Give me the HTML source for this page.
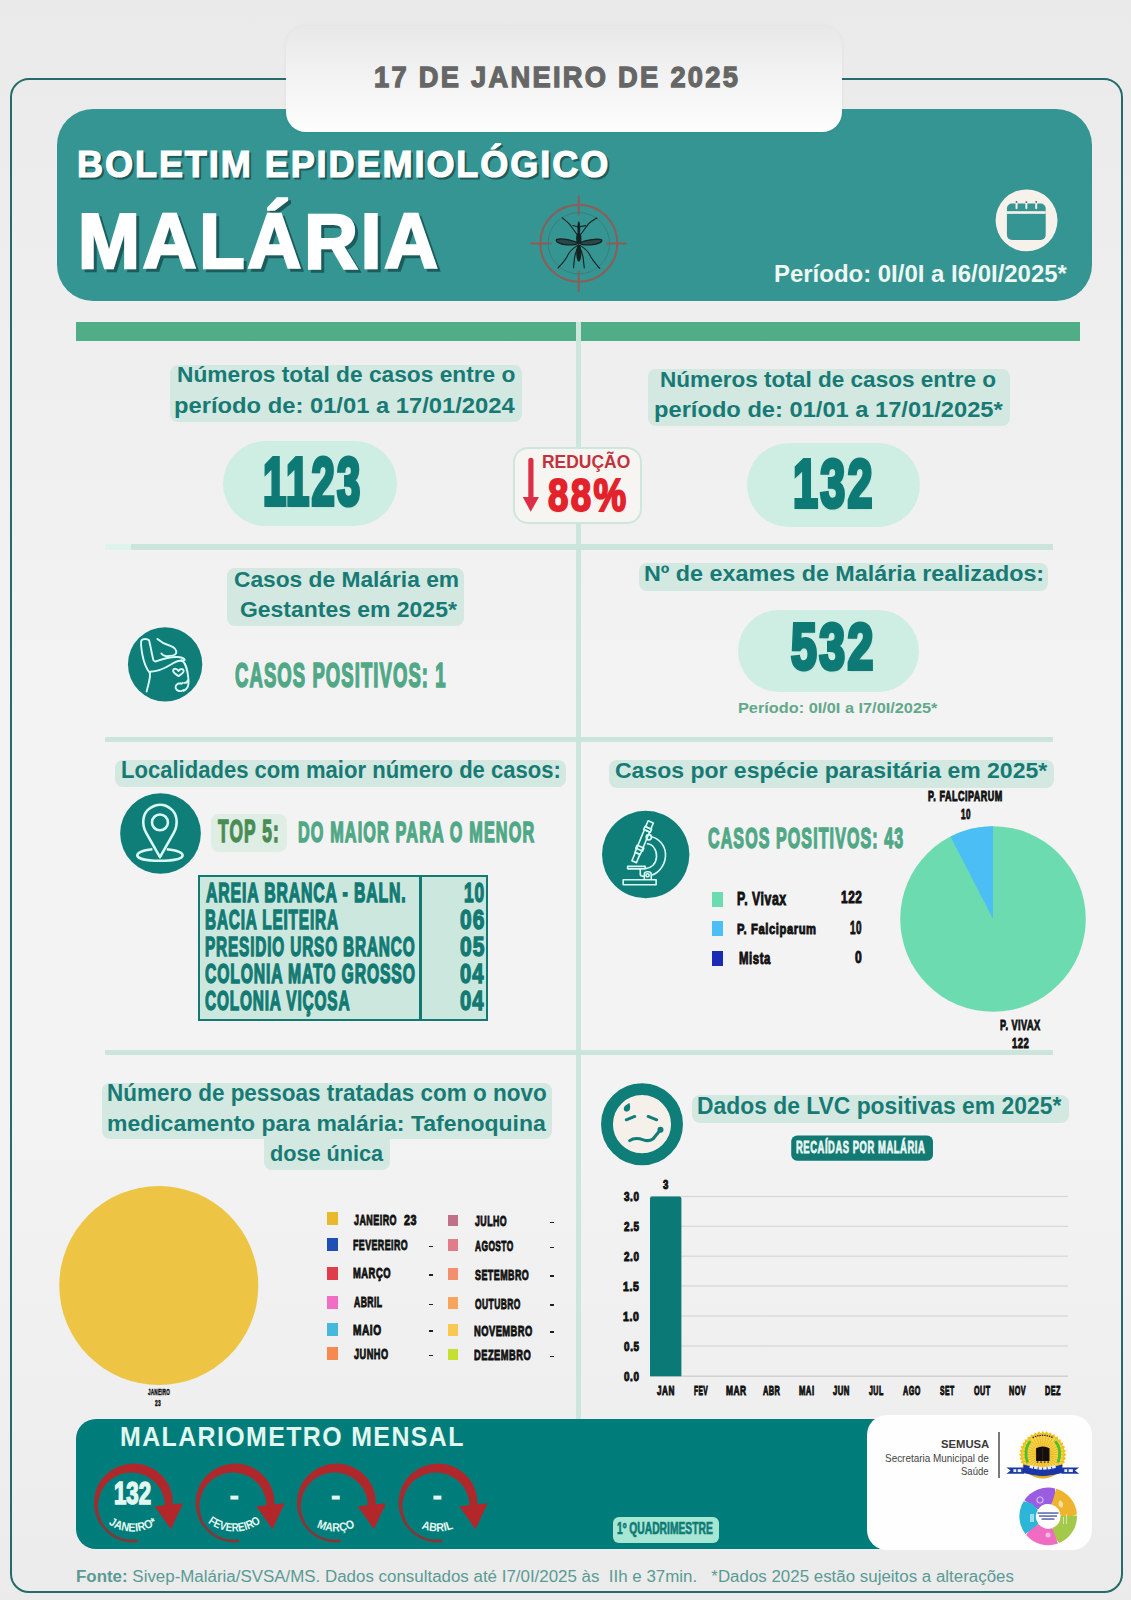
<!DOCTYPE html>
<html><head><meta charset="utf-8"><title>Boletim Malária</title>
<style>
html,body{margin:0;padding:0;}
body{width:1131px;height:1600px;position:relative;overflow:hidden;background:#ededed;font-family:"Liberation Sans",sans-serif;}
.a{position:absolute;}
svg{position:absolute;overflow:visible;}
</style></head><body>
<div class="a" style="left:0.00px;top:0.00px;width:1131.00px;height:1600.00px;background:linear-gradient(180deg,#eaeaea 0px,#eeeeee 300px,#f3f3f3 700px,#f3f3f3 1100px,#efefef 1400px,#ebebeb 1600px);"></div>
<div class="a" style="left:10.30px;top:77.90px;width:1112.50px;height:1515.30px;box-sizing:border-box;border:2.8px solid #256b69;border-radius:19px;"></div>
<div class="a" style="left:57.00px;top:109.00px;width:1035.00px;height:192.00px;border-radius:36px;background:#349592;"></div>
<div class="a" style="left:286.00px;top:26.00px;width:556.00px;height:105.50px;border-radius:20px;background:linear-gradient(180deg,#e8e8e8 0%,#f1f1f1 40%,#fdfdfd 100%);box-shadow:0 0 4px rgba(0,0,0,.05);"></div>
<div class="a" style="left:76.00px;top:322.00px;width:1004.00px;height:19.00px;background:#4fae87;"></div>
<div class="a" style="left:575.50px;top:322.00px;width:5.50px;height:1097.00px;background:#cce6dd;"></div>
<div class="a" style="left:104.50px;top:544.00px;width:948.50px;height:6.00px;background:#cce5dc;"></div>
<div class="a" style="left:104.50px;top:736.50px;width:948.50px;height:5.50px;background:#cce5dc;"></div>
<div class="a" style="left:104.50px;top:1049.50px;width:948.50px;height:5.50px;background:#cce5dc;"></div>
<div class="a" style="left:104.50px;top:544.00px;width:26.50px;height:6.00px;background:#def3ec;"></div>
<div class="a" style="left:169.80px;top:364.80px;width:352.20px;height:57.20px;background:#d3e8e0;border-radius:8px;"></div>
<div class="a" style="left:648.40px;top:369.20px;width:361.20px;height:57.30px;background:#d3e8e0;border-radius:8px;"></div>
<div class="a" style="left:227.40px;top:568.40px;width:236.60px;height:57.30px;background:#d3e8e0;border-radius:8px;"></div>
<div class="a" style="left:639.00px;top:563.00px;width:409.00px;height:28.10px;background:#d3e8e0;border-radius:8px;"></div>
<div class="a" style="left:114.90px;top:760.00px;width:451.10px;height:27.20px;background:#d3e8e0;border-radius:8px;"></div>
<div class="a" style="left:609.20px;top:760.00px;width:444.80px;height:27.50px;background:#d3e8e0;border-radius:8px;"></div>
<div class="a" style="left:102.40px;top:1083.00px;width:449.60px;height:56.20px;background:#d3e8e0;border-radius:8px;"></div>
<div class="a" style="left:263.90px;top:1130.00px;width:126.00px;height:39.80px;background:#d3e8e0;border-radius:8px;"></div>
<div class="a" style="left:691.90px;top:1095.40px;width:376.90px;height:28.10px;background:#d3e8e0;border-radius:8px;"></div>
<div class="a" style="left:210.80px;top:814.00px;width:75.90px;height:37.70px;background:#dfeee4;border-radius:8px;"></div>
<div class="a" style="left:223.40px;top:441.00px;width:174.10px;height:84.60px;background:#cfeee3;border-radius:50px;"></div>
<div class="a" style="left:747.00px;top:443.40px;width:173.30px;height:84.10px;background:#cfeee3;border-radius:50px;"></div>
<div class="a" style="left:738.40px;top:610.00px;width:180.60px;height:82.00px;background:#cfeee3;border-radius:50px;"></div>
<div class="a" style="left:513.30px;top:447.30px;width:128.50px;height:76.40px;box-sizing:border-box;border:2.3px solid #cfe6df;border-radius:15px;background:#f6f5f2;"></div>
<svg style="left:0;top:0" width="1131" height="1600"><rect x="528.3" y="457.8" width="5.2" height="42" rx="2.6" fill="#dc2f45"/><polygon points="522.8,497 539,497 530.7,511.8" fill="#dc2f45"/></svg>
<div class="a" style="left:198.20px;top:875.20px;width:290.00px;height:145.50px;box-sizing:border-box;border:2.7px solid #127a73;background:#cce8de;"></div>
<div class="a" style="left:419.00px;top:875.40px;width:3.00px;height:145.30px;background:#127a73;"></div>
<div class="a" style="left:712.20px;top:892.00px;width:10.80px;height:15.00px;background:#6ddbb0;"></div>
<div class="a" style="left:712.20px;top:920.50px;width:10.80px;height:15.50px;background:#4bbff5;"></div>
<div class="a" style="left:712.20px;top:950.50px;width:10.80px;height:15.30px;background:#1c2bb5;"></div>
<svg style="left:0;top:0" width="1131" height="1600"><circle cx="993" cy="919" r="92.8" fill="#6ddbb0"/><path d="M 993 919 L 993 826.20 A 92.8 92.8 0 0 0 950.48 836.51 Z" fill="#4bbff5"/></svg>
<svg style="left:0;top:0" width="1131" height="1600"><circle cx="158.8" cy="1285.5" r="99.5" fill="#edc444"/></svg>
<div class="a" style="left:326.80px;top:1212.00px;width:10.80px;height:13.00px;background:#e8b92b;"></div>
<div class="a" style="left:326.80px;top:1238.00px;width:10.80px;height:13.00px;background:#1f4fb5;"></div>
<div class="a" style="left:326.80px;top:1266.70px;width:10.80px;height:12.90px;background:#e03d4b;"></div>
<div class="a" style="left:326.80px;top:1296.00px;width:10.80px;height:12.80px;background:#f26ec5;"></div>
<div class="a" style="left:326.80px;top:1322.60px;width:10.80px;height:13.10px;background:#45b8dc;"></div>
<div class="a" style="left:326.80px;top:1347.00px;width:10.80px;height:13.00px;background:#f7884e;"></div>
<div class="a" style="left:448.00px;top:1214.50px;width:10.30px;height:11.50px;background:#c07088;"></div>
<div class="a" style="left:448.00px;top:1239.00px;width:10.30px;height:12.30px;background:#e07d88;"></div>
<div class="a" style="left:448.00px;top:1268.00px;width:10.30px;height:11.60px;background:#f48f6e;"></div>
<div class="a" style="left:448.00px;top:1297.30px;width:10.30px;height:11.50px;background:#f5a55c;"></div>
<div class="a" style="left:448.00px;top:1324.20px;width:10.30px;height:11.50px;background:#f9c851;"></div>
<div class="a" style="left:448.00px;top:1348.60px;width:10.30px;height:11.40px;background:#c5e030;"></div>
<div class="a" style="left:429.30px;top:1245.70px;width:4.00px;height:1.60px;background:#222;"></div>
<div class="a" style="left:429.30px;top:1274.30px;width:4.00px;height:1.60px;background:#222;"></div>
<div class="a" style="left:429.30px;top:1303.50px;width:4.00px;height:1.60px;background:#222;"></div>
<div class="a" style="left:429.30px;top:1330.40px;width:4.00px;height:1.60px;background:#222;"></div>
<div class="a" style="left:429.30px;top:1354.70px;width:4.00px;height:1.60px;background:#222;"></div>
<div class="a" style="left:550.30px;top:1221.60px;width:4.10px;height:1.60px;background:#222;"></div>
<div class="a" style="left:550.30px;top:1246.90px;width:4.10px;height:1.60px;background:#222;"></div>
<div class="a" style="left:550.30px;top:1275.20px;width:4.10px;height:1.60px;background:#222;"></div>
<div class="a" style="left:550.30px;top:1304.40px;width:4.10px;height:1.60px;background:#222;"></div>
<div class="a" style="left:550.30px;top:1331.30px;width:4.10px;height:1.60px;background:#222;"></div>
<div class="a" style="left:550.30px;top:1355.60px;width:4.10px;height:1.60px;background:#222;"></div>
<svg style="left:0;top:0" width="1131" height="1600"><rect x="650" y="1195.9" width="418" height="1.2" fill="#d6d6d6"/><rect x="650" y="1225.7" width="418" height="1.2" fill="#d6d6d6"/><rect x="650" y="1255.6" width="418" height="1.2" fill="#d6d6d6"/><rect x="650" y="1285.4" width="418" height="1.2" fill="#d6d6d6"/><rect x="650" y="1315.4" width="418" height="1.2" fill="#d6d6d6"/><rect x="650" y="1345.4" width="418" height="1.2" fill="#d6d6d6"/><rect x="650" y="1375.5" width="418" height="1.4" fill="#cfcfcf"/><path d="M650 1376.3 V1198.5 Q650 1196.5 652 1196.5 H679.4 Q681.4 1196.5 681.4 1198.5 V1376.3 Z" fill="#0b7a76"/><rect x="791.2" y="1135.5" width="141.8" height="25.3" rx="6" fill="#127a73"/></svg>
<div class="a" style="left:76.00px;top:1418.80px;width:924.00px;height:130.70px;border-radius:20px;background:#007d7a;"></div>
<div class="a" style="left:867.00px;top:1414.50px;width:225.00px;height:135.50px;border-radius:20px;background:#fefefe;"></div>
<div class="a" style="left:998.30px;top:1432.00px;width:1.50px;height:46.00px;background:#7a7a7a;"></div>
<div class="a" style="left:613.20px;top:1517.00px;width:105.40px;height:25.70px;border-radius:6px;background:#a6e6d2;"></div>
<svg style="left:500px;top:180px" width="160" height="120" viewBox="0 0 1131 848">
<g fill="none" stroke="#8c5e59" stroke-width="15">
<circle cx="557" cy="447" r="272"/>
<line x1="557" y1="110" x2="557" y2="250"/><line x1="557" y1="640" x2="557" y2="790"/>
<line x1="215" y1="448" x2="365" y2="448"/><line x1="750" y1="448" x2="895" y2="448"/>
</g>
<circle cx="557" cy="447" r="217" fill="none" stroke="#3d7a77" stroke-width="6"/>
<g fill="#2a4747" stroke="#152222" stroke-width="9">
<path d="M545 440 C500 425 430 410 400 420 C390 435 420 455 470 458 C510 460 540 455 545 450 Z"/>
<path d="M570 440 C615 425 690 410 718 422 C728 437 695 455 645 458 C605 460 575 455 570 450 Z"/>
</g>
<g fill="#152222">
<ellipse cx="557" cy="340" rx="10" ry="48"/>
<ellipse cx="557" cy="412" rx="19" ry="42"/>
<ellipse cx="557" cy="515" rx="18" ry="62"/>
</g>
<g fill="none" stroke="#152222" stroke-width="8" stroke-linecap="round">
<path d="M545 385 C525 360 505 330 490 310 C470 290 455 280 440 268"/>
<path d="M570 385 C590 360 610 330 625 310 C645 290 665 280 685 268"/>
<path d="M548 462 C520 480 490 500 475 540 C455 575 430 600 410 622"/>
<path d="M566 462 C595 480 625 500 640 540 C660 575 685 600 705 625"/>
<path d="M550 478 C535 510 525 540 525 570 C522 590 520 605 520 620"/>
<path d="M564 478 C580 510 588 540 590 570 C592 590 594 605 596 622"/>
<path d="M550 330 L515 322"/><path d="M564 330 L605 322"/>
</g>
</svg>
<svg style="left:990px;top:185px" width="75" height="70" viewBox="0 0 1131 1056">
<circle cx="551" cy="533" r="467" fill="#f6f1ea"/>
<rect x="255" y="280" width="585" height="550" rx="75" fill="#349592"/>
<rect x="255" y="395" width="585" height="40" fill="#f6f1ea"/>
<g stroke="#f6f1ea" stroke-width="30" stroke-linecap="round"><line x1="400" y1="265" x2="400" y2="350"/><line x1="548" y1="265" x2="548" y2="350"/><line x1="697" y1="265" x2="697" y2="350"/></g>
<g fill="#4a5f5e"><circle cx="400" cy="255" r="14"/><circle cx="548" cy="258" r="14"/><circle cx="697" cy="255" r="14"/></g>
</svg>
<svg style="left:120px;top:620px" width="90" height="90" viewBox="0 0 1131 1131">
<circle cx="567" cy="557" r="467" fill="#0f7d78"/>
<g fill="none" stroke="#d8fbf5" stroke-width="24" stroke-linecap="round" stroke-linejoin="round">
<path d="M335 900 C350 820 385 740 375 670"/>
<path d="M375 665 C330 610 300 540 280 430 C265 340 255 280 270 255 C290 230 345 235 365 255 C385 330 400 430 420 505 C430 525 445 525 470 515 C560 480 650 460 730 465 C790 470 820 490 810 505 C800 512 790 508 770 505"/>
<path d="M380 650 C480 650 560 610 640 560 C700 520 760 505 790 520 C820 540 850 640 860 740 C870 820 850 870 800 890"/>
<path d="M470 238 C520 280 560 305 620 320 C690 345 715 385 705 420 C690 450 640 455 580 455 C550 450 530 435 520 420"/>
<path d="M800 880 C760 905 715 895 700 860 C690 825 715 795 760 795 C770 805 780 800 790 790"/>
<path d="M810 790 C840 790 850 770 850 760"/>
<path d="M735 705 C700 680 660 660 668 632 C678 600 720 615 735 640 C750 612 795 605 800 638 C805 662 765 685 735 705 Z"/>
</g></svg>
<svg style="left:115px;top:788px" width="90" height="90" viewBox="0 0 1131 1131">
<circle cx="572" cy="572" r="507" fill="#0f7d78"/>
<g fill="none" stroke="#d8fbf5" stroke-width="32" stroke-linejoin="round">
<path d="M565 870 L390 560 C330 450 350 320 430 260 C520 195 620 195 700 260 C780 320 800 450 740 560 Z"/>
<circle cx="565" cy="432" r="100"/>
<path d="M470 770 C340 785 275 815 280 850 C290 895 420 915 565 915 C710 915 845 895 850 850 C855 815 790 785 650 770"/>
</g></svg>
<svg style="left:600px;top:808px" width="92" height="92" viewBox="0 0 1131 1131">
<circle cx="562" cy="572" r="537" fill="#0f7d78"/>
<g fill="none" stroke="#d8fbf5" stroke-width="20" stroke-linejoin="round">
<g transform="rotate(22.6 520 420)">
<rect x="485" y="150" width="70" height="80"/>
<rect x="475" y="230" width="90" height="40"/>
<rect x="485" y="270" width="70" height="300"/>
<rect x="475" y="480" width="90" height="40"/>
<rect x="490" y="570" width="60" height="110"/>
</g>
<circle cx="600" cy="360" r="32"/>
<path d="M625 350 C720 370 800 460 805 560 C812 680 740 790 640 825"/>
<path d="M575 440 C650 440 700 520 695 600 C690 690 630 740 560 745"/>
<rect x="340" y="718" width="215" height="30"/>
<path d="M495 750 L495 820 C495 835 520 840 545 840"/>
<path d="M545 880 L545 810 C545 775 630 775 630 810 L630 880"/>
<circle cx="585" cy="828" r="20"/>
<rect x="285" y="882" width="405" height="62"/>
</g></svg>
<svg style="left:598px;top:1080px" width="90" height="90" viewBox="0 0 1131 1131">
<circle cx="553" cy="555" r="440" fill="#f5f1ea" stroke="#0f7d78" stroke-width="150"/>
<g fill="#0f7d78"><path d="M395 290 C360 310 320 330 325 370 C330 400 375 405 395 380 C410 360 405 320 395 290 Z"/><circle cx="785" cy="625" r="38"/></g>
<g fill="none" stroke="#0f7d78" stroke-width="38" stroke-linecap="round">
<line x1="355" y1="500" x2="462" y2="458"/><line x1="630" y1="458" x2="738" y2="500"/>
<path d="M398 762 C450 725 520 735 570 752 C615 768 650 768 690 742 L770 645"/>
</g></svg>
<svg style="left:0;top:0" width="1131" height="1600"><defs><linearGradient id="arcg" x1="0.3" y1="1" x2="0.8" y2="0"><stop offset="0" stop-color="#7e3838"/><stop offset="0.45" stop-color="#a92b2e"/><stop offset="1" stop-color="#b3262a"/></linearGradient><path id="lp0" d="M 88.80 1487.50 A 44.00 44.00 0 0 0 176.80 1487.50"/><path id="lp1" d="M 190.40 1487.50 A 44.00 44.00 0 0 0 278.40 1487.50"/><path id="lp2" d="M 291.80 1487.50 A 44.00 44.00 0 0 0 379.80 1487.50"/><path id="lp3" d="M 393.40 1487.50 A 44.00 44.00 0 0 0 481.40 1487.50"/></defs><path d="M 138.90 1542.12 A 39.50 39.50 0 1 1 172.52 1508.50 L 164.57 1510.66 A 33.50 33.50 0 1 0 136.06 1539.17 Z" fill="url(#arcg)"/><polygon points="154.80,1506.30 183.00,1503.20 170.90,1529.20" fill="#b3262a"/><text font-family="Liberation Sans" font-weight="bold" font-size="12" fill="#e3f7f1" text-anchor="middle"><textPath href="#lp0" startOffset="50%" textLength="52" lengthAdjust="spacingAndGlyphs">JANEIRO*</textPath></text><path d="M 240.50 1542.12 A 39.50 39.50 0 1 1 274.12 1508.50 L 266.17 1510.66 A 33.50 33.50 0 1 0 237.66 1539.17 Z" fill="url(#arcg)"/><polygon points="256.40,1506.30 284.60,1503.20 272.50,1529.20" fill="#b3262a"/><text font-family="Liberation Sans" font-weight="bold" font-size="12" fill="#e3f7f1" text-anchor="middle"><textPath href="#lp1" startOffset="50%" textLength="57" lengthAdjust="spacingAndGlyphs">FEVEREIRO</textPath></text><rect x="230.40" y="1495.6" width="8" height="4" fill="#e3f7f1"/><path d="M 341.90 1542.12 A 39.50 39.50 0 1 1 375.52 1508.50 L 367.57 1510.66 A 33.50 33.50 0 1 0 339.06 1539.17 Z" fill="url(#arcg)"/><polygon points="357.80,1506.30 386.00,1503.20 373.90,1529.20" fill="#b3262a"/><text font-family="Liberation Sans" font-weight="bold" font-size="12" fill="#e3f7f1" text-anchor="middle"><textPath href="#lp2" startOffset="50%" textLength="40" lengthAdjust="spacingAndGlyphs">MARÇO</textPath></text><rect x="331.80" y="1495.6" width="8" height="4" fill="#e3f7f1"/><path d="M 443.50 1542.12 A 39.50 39.50 0 1 1 477.12 1508.50 L 469.17 1510.66 A 33.50 33.50 0 1 0 440.66 1539.17 Z" fill="url(#arcg)"/><polygon points="459.40,1506.30 487.60,1503.20 475.50,1529.20" fill="#b3262a"/><text font-family="Liberation Sans" font-weight="bold" font-size="12" fill="#e3f7f1" text-anchor="middle"><textPath href="#lp3" startOffset="50%" textLength="33" lengthAdjust="spacingAndGlyphs">ABRIL</textPath></text><rect x="433.40" y="1495.6" width="8" height="4" fill="#e3f7f1"/></svg>
<svg style="left:1000px;top:1425px" width="80" height="65" viewBox="0 0 1131 919">
<polygon points="940.0,420.0 908.8,446.6 934.9,478.2 899.6,498.9 919.8,534.6 881.4,548.9 895.1,587.5 854.8,594.9 861.6,635.3 820.7,635.7 820.3,676.6 779.9,669.8 772.5,710.1 733.9,696.4 719.6,734.8 683.9,714.6 663.2,749.9 631.6,723.8 605.0,755.0 578.4,723.8 546.8,749.9 526.1,714.6 490.4,734.8 476.1,696.4 437.5,710.1 430.1,669.8 389.7,676.6 389.3,635.7 348.4,635.3 355.2,594.9 314.9,587.5 328.6,548.9 290.2,534.6 310.4,498.9 275.1,478.2 301.2,446.6 270.0,420.0 301.2,393.4 275.1,361.8 310.4,341.1 290.2,305.4 328.6,291.1 314.9,252.5 355.2,245.1 348.4,204.7 389.3,204.3 389.7,163.4 430.1,170.2 437.5,129.9 476.1,143.6 490.4,105.2 526.1,125.4 546.8,90.1 578.4,116.2 605.0,85.0 631.6,116.2 663.2,90.1 683.9,125.4 719.6,105.2 733.9,143.6 772.5,129.9 779.9,170.2 820.3,163.4 820.7,204.3 861.6,204.7 854.8,245.1 895.1,252.5 881.4,291.1 919.8,305.4 899.6,341.1 934.9,361.8 908.8,393.4" fill="#f0c21e"/>
<circle cx="605" cy="420" r="290" fill="#f7d44c"/>
<g stroke="#eab520" stroke-width="14"><line x1="605" y1="420" x2="895.0" y2="420.0"/><line x1="605" y1="420" x2="890.6" y2="470.4"/><line x1="605" y1="420" x2="877.5" y2="519.2"/><line x1="605" y1="420" x2="856.1" y2="565.0"/><line x1="605" y1="420" x2="827.2" y2="606.4"/><line x1="605" y1="420" x2="791.4" y2="642.2"/><line x1="605" y1="420" x2="750.0" y2="671.1"/><line x1="605" y1="420" x2="704.2" y2="692.5"/><line x1="605" y1="420" x2="655.4" y2="705.6"/><line x1="605" y1="420" x2="605.0" y2="710.0"/><line x1="605" y1="420" x2="554.6" y2="705.6"/><line x1="605" y1="420" x2="505.8" y2="692.5"/><line x1="605" y1="420" x2="460.0" y2="671.1"/><line x1="605" y1="420" x2="418.6" y2="642.2"/><line x1="605" y1="420" x2="382.8" y2="606.4"/><line x1="605" y1="420" x2="353.9" y2="565.0"/><line x1="605" y1="420" x2="332.5" y2="519.2"/><line x1="605" y1="420" x2="319.4" y2="470.4"/><line x1="605" y1="420" x2="315.0" y2="420.0"/><line x1="605" y1="420" x2="319.4" y2="369.6"/><line x1="605" y1="420" x2="332.5" y2="320.8"/><line x1="605" y1="420" x2="353.9" y2="275.0"/><line x1="605" y1="420" x2="382.8" y2="233.6"/><line x1="605" y1="420" x2="418.6" y2="197.8"/><line x1="605" y1="420" x2="460.0" y2="168.9"/><line x1="605" y1="420" x2="505.8" y2="147.5"/><line x1="605" y1="420" x2="554.6" y2="134.4"/><line x1="605" y1="420" x2="605.0" y2="130.0"/><line x1="605" y1="420" x2="655.4" y2="134.4"/><line x1="605" y1="420" x2="704.2" y2="147.5"/><line x1="605" y1="420" x2="750.0" y2="168.9"/><line x1="605" y1="420" x2="791.4" y2="197.8"/><line x1="605" y1="420" x2="827.2" y2="233.6"/><line x1="605" y1="420" x2="856.1" y2="275.0"/><line x1="605" y1="420" x2="877.5" y2="320.8"/><line x1="605" y1="420" x2="890.6" y2="369.6"/></g>
<path d="M430 230 C360 300 350 430 390 530" fill="none" stroke="#4fbf2a" stroke-width="40"/>
<path d="M780 230 C850 300 860 430 820 530" fill="none" stroke="#4fbf2a" stroke-width="40"/>
<path d="M460 180 Q605 110 750 180" fill="none" stroke="#333" stroke-width="18" stroke-dasharray="22 12"/>
<path d="M510 510 V330 Q605 280 700 330 V510 Z" fill="#140e0e"/>
<rect x="600" y="320" width="10" height="190" fill="#3a3030"/>
<g fill="#222"><rect x="520" y="515" width="22" height="18"/><rect x="570" y="515" width="22" height="18"/><rect x="620" y="515" width="22" height="18"/><rect x="670" y="515" width="22" height="18"/></g>
<path d="M420 640 Q605 760 790 640 L790 700 Q605 810 420 700 Z" fill="#e2b01e"/>
<path d="M430 660 Q605 770 780 660" fill="none" stroke="#222" stroke-width="14" stroke-dasharray="16 10"/>
<path d="M90 600 L340 600 L340 690 L90 690 L150 645 Z" fill="#1b3aa0"/>
<path d="M1120 600 L870 600 L870 690 L1120 690 L1060 645 Z" fill="#1b3aa0"/>
<path d="M330 560 Q605 650 880 560 L880 680 Q605 760 330 680 Z" fill="#1a35a8"/>
<path d="M420 585 Q605 640 790 585" fill="none" stroke="#e8eeff" stroke-width="40" stroke-dasharray="50 14"/>
<g fill="#e8eeff"><rect x="190" y="625" width="40" height="40"/><rect x="250" y="625" width="50" height="40"/><rect x="910" y="625" width="40" height="40"/><rect x="970" y="625" width="60" height="40"/></g>
</svg>
<svg style="left:0;top:0" width="1131" height="1600"><path d="M1024.38 1500.21 A28.80 28.80 0 0 1 1055.07 1488.43 L1055.55 1497.26 L1051.11 1504.55 A12.20 12.20 0 0 0 1038.11 1509.54 Z" fill="#9a5ce0"/><path d="M1056.23 1488.74 A28.80 28.80 0 0 1 1076.92 1514.29 L1068.67 1517.47 L1060.37 1515.51 A12.20 12.20 0 0 0 1051.60 1504.68 Z" fill="#eeb42e"/><path d="M1076.99 1515.50 A28.80 28.80 0 0 1 1059.08 1543.07 L1053.51 1536.20 L1052.81 1527.70 A12.20 12.20 0 0 0 1060.39 1516.02 Z" fill="#a3c84a"/><path d="M1057.96 1543.50 A28.80 28.80 0 0 1 1026.20 1534.99 L1031.01 1527.57 L1038.88 1524.27 A12.20 12.20 0 0 0 1052.33 1527.88 Z" fill="#f06cc2"/><path d="M1025.44 1534.05 A28.80 28.80 0 0 1 1023.72 1501.22 L1032.27 1503.50 L1037.83 1509.97 A12.20 12.20 0 0 0 1038.56 1523.88 Z" fill="#2bb5d6"/><circle cx="1048.2" cy="1516.4" r="11.9" fill="#fff"/><g fill="#3b4aa0" opacity=".85"><rect x="1037.5" y="1512.3" width="21" height="1.5"/><rect x="1039" y="1515.3" width="18" height="1.5"/><rect x="1041.5" y="1518.3" width="13" height="1.5"/></g><g fill="#fff" opacity=".55"><circle cx="1040" cy="1500" r="3" fill="none" stroke="#fff" stroke-width="1.2"/><path d="M1060 1500 q5 3 2 8 q-6 -2 -2 -8z"/><rect x="1063" y="1517" width="1" height="7"/><rect x="1066" y="1514" width="1" height="10"/><rect x="1030" y="1514" width="4" height="8"/><circle cx="1048" cy="1535" r="2.5"/></g></svg>
<div class="t" id="t0" style="position:absolute;white-space:nowrap;line-height:1;font-family:'Liberation Sans',sans-serif;font-size:29.80px;left:373.50px;top:61.92px;font-weight:bold;color:#666;-webkit-text-stroke:1.30px currentColor;letter-spacing:2.50px;transform:scaleX(0.9148);transform-origin:0 0;">17 DE JANEIRO DE 2025</div>
<div style="position:absolute;white-space:nowrap;line-height:1;font-family:'Liberation Sans',sans-serif;font-size:37.65px;left:79.24px;top:147.93px;font-weight:bold;color:#fff;-webkit-text-stroke:1.20px currentColor;letter-spacing:2.00px;transform:scaleX(0.9583);transform-origin:0 0;color:#1d5c5c;">BOLETIM EPIDEMIOLÓGICO</div>
<div class="t" id="t1" style="position:absolute;white-space:nowrap;line-height:1;font-family:'Liberation Sans',sans-serif;font-size:37.65px;left:77.04px;top:145.73px;font-weight:bold;color:#fff;-webkit-text-stroke:1.20px currentColor;letter-spacing:2.00px;transform:scaleX(0.9583);transform-origin:0 0;">BOLETIM EPIDEMIOLÓGICO</div>
<div style="position:absolute;white-space:nowrap;line-height:1;font-family:'Liberation Sans',sans-serif;font-size:77.18px;left:81.11px;top:205.85px;font-weight:bold;color:#fff;-webkit-text-stroke:2.60px currentColor;letter-spacing:3.00px;transform:scaleX(0.9628);transform-origin:0 0;color:#1d5c5c;">MALÁRIA</div>
<div class="t" id="t2" style="position:absolute;white-space:nowrap;line-height:1;font-family:'Liberation Sans',sans-serif;font-size:77.18px;left:78.11px;top:202.85px;font-weight:bold;color:#fff;-webkit-text-stroke:2.60px currentColor;letter-spacing:3.00px;transform:scaleX(0.9628);transform-origin:0 0;">MALÁRIA</div>
<div class="t" id="t3" style="position:absolute;white-space:nowrap;line-height:1;font-family:'Liberation Sans',sans-serif;font-size:23.84px;left:773.64px;top:262.02px;font-weight:bold;color:#eef7f2;transform:scaleX(1.0052);transform-origin:0 0;">Período: 0I/0I a I6/0I/2025*</div>
<div class="t" id="t4" style="position:absolute;white-space:nowrap;line-height:1;font-family:'Liberation Sans',sans-serif;font-size:22.24px;left:176.62px;top:364.47px;font-weight:bold;color:#177a75;transform:scaleX(1.0219);transform-origin:0 0;">Números total de casos entre o</div>
<div class="t" id="t5" style="position:absolute;white-space:nowrap;line-height:1;font-family:'Liberation Sans',sans-serif;font-size:21.95px;left:174.11px;top:395.02px;font-weight:bold;color:#177a75;transform:scaleX(1.0829);transform-origin:0 0;">período de: 01/01 a 17/01/2024</div>
<div class="t" id="t6" style="position:absolute;white-space:nowrap;line-height:1;font-family:'Liberation Sans',sans-serif;font-size:22.24px;left:659.98px;top:369.47px;font-weight:bold;color:#177a75;transform:scaleX(1.0147);transform-origin:0 0;">Números total de casos entre o</div>
<div class="t" id="t7" style="position:absolute;white-space:nowrap;line-height:1;font-family:'Liberation Sans',sans-serif;font-size:22.09px;left:654.13px;top:399.29px;font-weight:bold;color:#177a75;transform:scaleX(1.0723);transform-origin:0 0;">período de: 01/01 a 17/01/2025*</div>
<div class="t" id="t8" style="position:absolute;white-space:nowrap;line-height:1;font-family:'Liberation Sans',sans-serif;font-size:68.02px;left:262.77px;top:447.30px;font-weight:bold;color:#0e7a76;text-shadow:1px 2px 2px rgba(0,60,50,.25);-webkit-text-stroke:4.20px currentColor;letter-spacing:3.50px;transform:scaleX(0.6146);transform-origin:0 0;">1123</div>
<div class="t" id="t9" style="position:absolute;white-space:nowrap;line-height:1;font-family:'Liberation Sans',sans-serif;font-size:69.04px;left:792.70px;top:448.94px;font-weight:bold;color:#0e7a76;text-shadow:1px 2px 2px rgba(0,60,50,.25);-webkit-text-stroke:4.20px currentColor;letter-spacing:3.50px;transform:scaleX(0.6490);transform-origin:0 0;">132</div>
<div class="t" id="t10" style="position:absolute;white-space:nowrap;line-height:1;font-family:'Liberation Sans',sans-serif;font-size:17.88px;left:542.00px;top:454.46px;font-weight:bold;color:#c4313b;transform:scaleX(0.9778);transform-origin:0 0;">REDUÇÃO</div>
<div class="t" id="t11" style="position:absolute;white-space:nowrap;line-height:1;font-family:'Liberation Sans',sans-serif;font-size:46.51px;left:548.00px;top:471.62px;font-weight:bold;color:#e3222b;text-shadow:0 1px 2px rgba(200,0,0,.3);-webkit-text-stroke:2.00px currentColor;letter-spacing:3.00px;transform:scaleX(0.7878);transform-origin:0 0;">88%</div>
<div class="t" id="t12" style="position:absolute;white-space:nowrap;line-height:1;font-family:'Liberation Sans',sans-serif;font-size:22.24px;left:233.61px;top:568.77px;font-weight:bold;color:#177a75;transform:scaleX(1.0230);transform-origin:0 0;">Casos de Malária em</div>
<div class="t" id="t13" style="position:absolute;white-space:nowrap;line-height:1;font-family:'Liberation Sans',sans-serif;font-size:21.80px;left:239.96px;top:598.94px;font-weight:bold;color:#177a75;transform:scaleX(1.0526);transform-origin:0 0;">Gestantes em 2025*</div>
<div class="t" id="t14" style="position:absolute;white-space:nowrap;line-height:1;font-family:'Liberation Sans',sans-serif;font-size:34.59px;left:235.00px;top:657.86px;font-weight:bold;color:#50a886;-webkit-text-stroke:1.70px currentColor;letter-spacing:2.00px;transform:scaleX(0.5354);transform-origin:0 0;">CASOS POSITIVOS: 1</div>
<div class="t" id="t15" style="position:absolute;white-space:nowrap;line-height:1;font-family:'Liberation Sans',sans-serif;font-size:22.38px;left:643.72px;top:562.55px;font-weight:bold;color:#177a75;transform:scaleX(1.0427);transform-origin:0 0;">Nº de exames de Malária realizados:</div>
<div class="t" id="t16" style="position:absolute;white-space:nowrap;line-height:1;font-family:'Liberation Sans',sans-serif;font-size:64.53px;left:790.82px;top:615.26px;font-weight:bold;color:#0e7a76;text-shadow:1px 2px 2px rgba(0,60,50,.25);-webkit-text-stroke:4.20px currentColor;letter-spacing:3.50px;transform:scaleX(0.7178);transform-origin:0 0;">532</div>
<div class="t" id="t17" style="position:absolute;white-space:nowrap;line-height:1;font-family:'Liberation Sans',sans-serif;font-size:15.41px;left:738.48px;top:699.95px;font-weight:bold;color:#62a88a;transform:scaleX(1.0583);transform-origin:0 0;">Período: 0I/0I a I7/0I/2025*</div>
<div class="t" id="t18" style="position:absolute;white-space:nowrap;line-height:1;font-family:'Liberation Sans',sans-serif;font-size:23.11px;left:120.53px;top:758.93px;font-weight:bold;color:#177a75;transform:scaleX(0.9540);transform-origin:0 0;">Localidades com maior número de casos:</div>
<div class="t" id="t19" style="position:absolute;white-space:nowrap;line-height:1;font-family:'Liberation Sans',sans-serif;font-size:31.10px;left:218.18px;top:815.66px;font-weight:bold;color:#4a8c55;-webkit-text-stroke:1.40px currentColor;letter-spacing:2.00px;transform:scaleX(0.5579);transform-origin:0 0;">TOP 5:</div>
<div class="t" id="t20" style="position:absolute;white-space:nowrap;line-height:1;font-family:'Liberation Sans',sans-serif;font-size:28.63px;left:298.18px;top:818.21px;font-weight:bold;color:#50a886;-webkit-text-stroke:1.50px currentColor;letter-spacing:2.00px;transform:scaleX(0.5664);transform-origin:0 0;">DO MAIOR PARA O MENOR</div>
<div class="t" id="t21" style="position:absolute;white-space:nowrap;line-height:1;font-family:'Liberation Sans',sans-serif;font-size:27.76px;left:206.47px;top:879.04px;font-weight:bold;color:#127a73;-webkit-text-stroke:1.50px currentColor;letter-spacing:1.50px;transform:scaleX(0.5702);transform-origin:0 0;">AREIA BRANCA - BALN.</div>
<div class="t" id="t22" style="position:absolute;white-space:nowrap;line-height:1;font-family:'Liberation Sans',sans-serif;font-size:27.76px;left:464.00px;top:879.04px;font-weight:bold;color:#127a73;-webkit-text-stroke:1.50px currentColor;letter-spacing:1.50px;transform:scaleX(0.6220);transform-origin:0 0;">10</div>
<div class="t" id="t23" style="position:absolute;white-space:nowrap;line-height:1;font-family:'Liberation Sans',sans-serif;font-size:27.76px;left:204.97px;top:906.44px;font-weight:bold;color:#127a73;-webkit-text-stroke:1.50px currentColor;letter-spacing:1.50px;transform:scaleX(0.5530);transform-origin:0 0;">BACIA LEITEIRA</div>
<div class="t" id="t24" style="position:absolute;white-space:nowrap;line-height:1;font-family:'Liberation Sans',sans-serif;font-size:27.76px;left:460.00px;top:906.44px;font-weight:bold;color:#127a73;-webkit-text-stroke:1.50px currentColor;letter-spacing:1.50px;transform:scaleX(0.7496);transform-origin:0 0;">06</div>
<div class="t" id="t25" style="position:absolute;white-space:nowrap;line-height:1;font-family:'Liberation Sans',sans-serif;font-size:27.76px;left:204.98px;top:933.34px;font-weight:bold;color:#127a73;-webkit-text-stroke:1.50px currentColor;letter-spacing:1.50px;transform:scaleX(0.5540);transform-origin:0 0;">PRESIDIO URSO BRANCO</div>
<div class="t" id="t26" style="position:absolute;white-space:nowrap;line-height:1;font-family:'Liberation Sans',sans-serif;font-size:27.76px;left:460.00px;top:933.34px;font-weight:bold;color:#127a73;-webkit-text-stroke:1.50px currentColor;letter-spacing:1.50px;transform:scaleX(0.7519);transform-origin:0 0;">05</div>
<div class="t" id="t27" style="position:absolute;white-space:nowrap;line-height:1;font-family:'Liberation Sans',sans-serif;font-size:27.76px;left:204.97px;top:960.44px;font-weight:bold;color:#127a73;-webkit-text-stroke:1.50px currentColor;letter-spacing:1.50px;transform:scaleX(0.5668);transform-origin:0 0;">COLONIA MATO GROSSO</div>
<div class="t" id="t28" style="position:absolute;white-space:nowrap;line-height:1;font-family:'Liberation Sans',sans-serif;font-size:27.76px;left:460.00px;top:960.44px;font-weight:bold;color:#127a73;-webkit-text-stroke:1.50px currentColor;letter-spacing:1.50px;transform:scaleX(0.7284);transform-origin:0 0;">04</div>
<div class="t" id="t29" style="position:absolute;white-space:nowrap;line-height:1;font-family:'Liberation Sans',sans-serif;font-size:27.76px;left:204.96px;top:987.34px;font-weight:bold;color:#127a73;-webkit-text-stroke:1.50px currentColor;letter-spacing:1.50px;transform:scaleX(0.5548);transform-origin:0 0;">COLONIA VIÇOSA</div>
<div class="t" id="t30" style="position:absolute;white-space:nowrap;line-height:1;font-family:'Liberation Sans',sans-serif;font-size:27.76px;left:460.00px;top:987.34px;font-weight:bold;color:#127a73;-webkit-text-stroke:1.50px currentColor;letter-spacing:1.50px;transform:scaleX(0.7284);transform-origin:0 0;">04</div>
<div class="t" id="t31" style="position:absolute;white-space:nowrap;line-height:1;font-family:'Liberation Sans',sans-serif;font-size:21.80px;left:615.38px;top:759.84px;font-weight:bold;color:#177a75;transform:scaleX(1.0553);transform-origin:0 0;">Casos por espécie parasitária em 2025*</div>
<div class="t" id="t32" style="position:absolute;white-space:nowrap;line-height:1;font-family:'Liberation Sans',sans-serif;font-size:29.36px;left:707.54px;top:822.79px;font-weight:bold;color:#50a886;-webkit-text-stroke:1.50px currentColor;letter-spacing:2.00px;transform:scaleX(0.5461);transform-origin:0 0;">CASOS POSITIVOS: 43</div>
<div class="t" id="t33" style="position:absolute;white-space:nowrap;line-height:1;font-family:'Liberation Sans',sans-serif;font-size:13.74px;left:928.33px;top:789.90px;font-weight:bold;color:#111;-webkit-text-stroke:0.95px currentColor;letter-spacing:0.80px;transform:scaleX(0.6533);transform-origin:0 0;">P. FALCIPARUM</div>
<div class="t" id="t34" style="position:absolute;white-space:nowrap;line-height:1;font-family:'Liberation Sans',sans-serif;font-size:14.03px;left:960.57px;top:807.35px;font-weight:bold;color:#111;-webkit-text-stroke:0.95px currentColor;letter-spacing:0.80px;transform:scaleX(0.5770);transform-origin:0 0;">10</div>
<div class="t" id="t35" style="position:absolute;white-space:nowrap;line-height:1;font-family:'Liberation Sans',sans-serif;font-size:15.48px;left:1000.00px;top:1016.92px;font-weight:bold;color:#111;-webkit-text-stroke:0.95px currentColor;letter-spacing:0.80px;transform:scaleX(0.5936);transform-origin:0 0;">P. VIVAX</div>
<div class="t" id="t36" style="position:absolute;white-space:nowrap;line-height:1;font-family:'Liberation Sans',sans-serif;font-size:15.33px;left:1012.00px;top:1034.54px;font-weight:bold;color:#111;-webkit-text-stroke:0.95px currentColor;letter-spacing:0.80px;transform:scaleX(0.6207);transform-origin:0 0;">122</div>
<div class="t" id="t37" style="position:absolute;white-space:nowrap;line-height:1;font-family:'Liberation Sans',sans-serif;font-size:17.81px;left:737.33px;top:890.65px;font-weight:bold;color:#111;-webkit-text-stroke:0.95px currentColor;letter-spacing:0.80px;transform:scaleX(0.6901);transform-origin:0 0;">P. Vivax</div>
<div class="t" id="t38" style="position:absolute;white-space:nowrap;line-height:1;font-family:'Liberation Sans',sans-serif;font-size:15.19px;left:737.27px;top:920.66px;font-weight:bold;color:#111;-webkit-text-stroke:0.95px currentColor;letter-spacing:0.80px;transform:scaleX(0.7374);transform-origin:0 0;">P. Falciparum</div>
<div class="t" id="t39" style="position:absolute;white-space:nowrap;line-height:1;font-family:'Liberation Sans',sans-serif;font-size:16.06px;left:739.00px;top:950.23px;font-weight:bold;color:#111;-webkit-text-stroke:0.95px currentColor;letter-spacing:0.80px;transform:scaleX(0.7104);transform-origin:0 0;">Mista</div>
<div class="t" id="t40" style="position:absolute;white-space:nowrap;line-height:1;font-family:'Liberation Sans',sans-serif;font-size:16.35px;left:840.87px;top:889.18px;font-weight:bold;color:#111;-webkit-text-stroke:0.95px currentColor;letter-spacing:0.80px;transform:scaleX(0.7240);transform-origin:0 0;">122</div>
<div class="t" id="t41" style="position:absolute;white-space:nowrap;line-height:1;font-family:'Liberation Sans',sans-serif;font-size:17.81px;left:849.51px;top:919.95px;font-weight:bold;color:#111;-webkit-text-stroke:0.95px currentColor;letter-spacing:0.80px;transform:scaleX(0.5590);transform-origin:0 0;">10</div>
<div class="t" id="t42" style="position:absolute;white-space:nowrap;line-height:1;font-family:'Liberation Sans',sans-serif;font-size:17.22px;left:854.89px;top:949.24px;font-weight:bold;color:#111;-webkit-text-stroke:0.95px currentColor;letter-spacing:0.80px;transform:scaleX(0.7023);transform-origin:0 0;">0</div>
<div class="t" id="t43" style="position:absolute;white-space:nowrap;line-height:1;font-family:'Liberation Sans',sans-serif;font-size:23.11px;left:106.92px;top:1082.43px;font-weight:bold;color:#177a75;transform:scaleX(0.9726);transform-origin:0 0;">Número de pessoas tratadas com o novo</div>
<div class="t" id="t44" style="position:absolute;white-space:nowrap;line-height:1;font-family:'Liberation Sans',sans-serif;font-size:22.53px;left:106.83px;top:1112.72px;font-weight:bold;color:#177a75;transform:scaleX(1.0204);transform-origin:0 0;">medicamento para malária: Tafenoquina</div>
<div class="t" id="t45" style="position:absolute;white-space:nowrap;line-height:1;font-family:'Liberation Sans',sans-serif;font-size:22.38px;left:270.27px;top:1142.85px;font-weight:bold;color:#177a75;transform:scaleX(0.9674);transform-origin:0 0;">dose única</div>
<div class="t" id="t46" style="position:absolute;white-space:nowrap;line-height:1;font-family:'Liberation Sans',sans-serif;font-size:15.48px;left:354.09px;top:1212.32px;font-weight:bold;color:#111;-webkit-text-stroke:0.95px currentColor;letter-spacing:0.80px;transform:scaleX(0.5784);transform-origin:0 0;">JANEIRO</div>
<div class="t" id="t47" style="position:absolute;white-space:nowrap;line-height:1;font-family:'Liberation Sans',sans-serif;font-size:15.48px;left:353.12px;top:1237.22px;font-weight:bold;color:#111;-webkit-text-stroke:0.95px currentColor;letter-spacing:0.80px;transform:scaleX(0.5701);transform-origin:0 0;">FEVEREIRO</div>
<div class="t" id="t48" style="position:absolute;white-space:nowrap;line-height:1;font-family:'Liberation Sans',sans-serif;font-size:15.48px;left:353.09px;top:1265.22px;font-weight:bold;color:#111;-webkit-text-stroke:0.95px currentColor;letter-spacing:0.80px;transform:scaleX(0.6084);transform-origin:0 0;">MARÇO</div>
<div class="t" id="t49" style="position:absolute;white-space:nowrap;line-height:1;font-family:'Liberation Sans',sans-serif;font-size:15.48px;left:354.12px;top:1294.22px;font-weight:bold;color:#111;-webkit-text-stroke:0.95px currentColor;letter-spacing:0.80px;transform:scaleX(0.5567);transform-origin:0 0;">ABRIL</div>
<div class="t" id="t50" style="position:absolute;white-space:nowrap;line-height:1;font-family:'Liberation Sans',sans-serif;font-size:15.48px;left:353.12px;top:1321.82px;font-weight:bold;color:#111;-webkit-text-stroke:0.95px currentColor;letter-spacing:0.80px;transform:scaleX(0.6570);transform-origin:0 0;">MAIO</div>
<div class="t" id="t51" style="position:absolute;white-space:nowrap;line-height:1;font-family:'Liberation Sans',sans-serif;font-size:15.48px;left:354.19px;top:1346.42px;font-weight:bold;color:#111;-webkit-text-stroke:0.95px currentColor;letter-spacing:0.80px;transform:scaleX(0.5938);transform-origin:0 0;">JUNHO</div>
<div class="t" id="t52" style="position:absolute;white-space:nowrap;line-height:1;font-family:'Liberation Sans',sans-serif;font-size:15.48px;left:475.20px;top:1213.02px;font-weight:bold;color:#111;-webkit-text-stroke:0.95px currentColor;letter-spacing:0.80px;transform:scaleX(0.5698);transform-origin:0 0;">JULHO</div>
<div class="t" id="t53" style="position:absolute;white-space:nowrap;line-height:1;font-family:'Liberation Sans',sans-serif;font-size:15.48px;left:475.15px;top:1238.32px;font-weight:bold;color:#111;-webkit-text-stroke:0.95px currentColor;letter-spacing:0.80px;transform:scaleX(0.5409);transform-origin:0 0;">AGOSTO</div>
<div class="t" id="t54" style="position:absolute;white-space:nowrap;line-height:1;font-family:'Liberation Sans',sans-serif;font-size:15.48px;left:475.25px;top:1266.62px;font-weight:bold;color:#111;-webkit-text-stroke:0.95px currentColor;letter-spacing:0.80px;transform:scaleX(0.5767);transform-origin:0 0;">SETEMBRO</div>
<div class="t" id="t55" style="position:absolute;white-space:nowrap;line-height:1;font-family:'Liberation Sans',sans-serif;font-size:15.48px;left:475.24px;top:1295.82px;font-weight:bold;color:#111;-webkit-text-stroke:0.95px currentColor;letter-spacing:0.80px;transform:scaleX(0.5466);transform-origin:0 0;">OUTUBRO</div>
<div class="t" id="t56" style="position:absolute;white-space:nowrap;line-height:1;font-family:'Liberation Sans',sans-serif;font-size:15.48px;left:474.21px;top:1322.72px;font-weight:bold;color:#111;-webkit-text-stroke:0.95px currentColor;letter-spacing:0.80px;transform:scaleX(0.6031);transform-origin:0 0;">NOVEMBRO</div>
<div class="t" id="t57" style="position:absolute;white-space:nowrap;line-height:1;font-family:'Liberation Sans',sans-serif;font-size:15.48px;left:474.22px;top:1347.02px;font-weight:bold;color:#111;-webkit-text-stroke:0.95px currentColor;letter-spacing:0.80px;transform:scaleX(0.6022);transform-origin:0 0;">DEZEMBRO</div>
<div class="t" id="t58" style="position:absolute;white-space:nowrap;line-height:1;font-family:'Liberation Sans',sans-serif;font-size:15.33px;left:404.01px;top:1212.44px;font-weight:bold;color:#111;-webkit-text-stroke:0.95px currentColor;letter-spacing:0.80px;transform:scaleX(0.7036);transform-origin:0 0;">23</div>
<div class="t" id="t59" style="position:absolute;white-space:nowrap;line-height:1;font-family:'Liberation Sans',sans-serif;font-size:9.30px;left:147.71px;top:1388.27px;font-weight:bold;color:#111;-webkit-text-stroke:0.50px currentColor;letter-spacing:0.50px;transform:scaleX(0.4942);transform-origin:0 0;">JANEIRO</div>
<div class="t" id="t60" style="position:absolute;white-space:nowrap;line-height:1;font-family:'Liberation Sans',sans-serif;font-size:9.16px;left:155.08px;top:1398.80px;font-weight:bold;color:#111;-webkit-text-stroke:0.50px currentColor;letter-spacing:0.50px;transform:scaleX(0.5290);transform-origin:0 0;">23</div>
<div class="t" id="t61" style="position:absolute;white-space:nowrap;line-height:1;font-family:'Liberation Sans',sans-serif;font-size:23.11px;left:697.30px;top:1094.93px;font-weight:bold;color:#177a75;transform:scaleX(0.9894);transform-origin:0 0;">Dados de LVC positivas em 2025*</div>
<div class="t" id="t62" style="position:absolute;white-space:nowrap;line-height:1;font-family:'Liberation Sans',sans-serif;font-size:16.57px;left:796.48px;top:1140.07px;font-weight:bold;color:#eaf7f3;-webkit-text-stroke:0.80px currentColor;letter-spacing:1.00px;transform:scaleX(0.5673);transform-origin:0 0;">RECAÍDAS POR MALÁRIA</div>
<div class="t" id="t63" style="position:absolute;white-space:nowrap;line-height:1;font-family:'Liberation Sans',sans-serif;font-size:12.28px;left:662.78px;top:1178.93px;font-weight:bold;color:#111;-webkit-text-stroke:0.95px currentColor;letter-spacing:0.80px;transform:scaleX(0.7778);transform-origin:0 0;">3</div>
<div class="t" id="t64" style="position:absolute;white-space:nowrap;line-height:1;font-family:'Liberation Sans',sans-serif;font-size:12.72px;left:624.30px;top:1191.06px;font-weight:bold;color:#111;-webkit-text-stroke:0.95px currentColor;letter-spacing:0.80px;transform:scaleX(0.7754);transform-origin:0 0;">3.0</div>
<div class="t" id="t65" style="position:absolute;white-space:nowrap;line-height:1;font-family:'Liberation Sans',sans-serif;font-size:12.72px;left:624.25px;top:1220.86px;font-weight:bold;color:#111;-webkit-text-stroke:0.95px currentColor;letter-spacing:0.80px;transform:scaleX(0.7781);transform-origin:0 0;">2.5</div>
<div class="t" id="t66" style="position:absolute;white-space:nowrap;line-height:1;font-family:'Liberation Sans',sans-serif;font-size:12.72px;left:624.30px;top:1250.76px;font-weight:bold;color:#111;-webkit-text-stroke:0.95px currentColor;letter-spacing:0.80px;transform:scaleX(0.7754);transform-origin:0 0;">2.0</div>
<div class="t" id="t67" style="position:absolute;white-space:nowrap;line-height:1;font-family:'Liberation Sans',sans-serif;font-size:12.72px;left:623.18px;top:1280.56px;font-weight:bold;color:#111;-webkit-text-stroke:0.95px currentColor;letter-spacing:0.80px;transform:scaleX(0.8239);transform-origin:0 0;">1.5</div>
<div class="t" id="t68" style="position:absolute;white-space:nowrap;line-height:1;font-family:'Liberation Sans',sans-serif;font-size:12.72px;left:623.13px;top:1310.56px;font-weight:bold;color:#111;-webkit-text-stroke:0.95px currentColor;letter-spacing:0.80px;transform:scaleX(0.8239);transform-origin:0 0;">1.0</div>
<div class="t" id="t69" style="position:absolute;white-space:nowrap;line-height:1;font-family:'Liberation Sans',sans-serif;font-size:12.72px;left:624.25px;top:1340.56px;font-weight:bold;color:#111;-webkit-text-stroke:0.95px currentColor;letter-spacing:0.80px;transform:scaleX(0.7781);transform-origin:0 0;">0.5</div>
<div class="t" id="t70" style="position:absolute;white-space:nowrap;line-height:1;font-family:'Liberation Sans',sans-serif;font-size:12.72px;left:624.30px;top:1370.56px;font-weight:bold;color:#111;-webkit-text-stroke:0.95px currentColor;letter-spacing:0.80px;transform:scaleX(0.7754);transform-origin:0 0;">0.0</div>
<div class="t" id="t71" style="position:absolute;white-space:nowrap;line-height:1;font-family:'Liberation Sans',sans-serif;font-size:13.15px;left:657.17px;top:1384.39px;font-weight:bold;color:#111;-webkit-text-stroke:0.95px currentColor;letter-spacing:0.80px;transform:scaleX(0.6224);transform-origin:0 0;">JAN</div>
<div class="t" id="t72" style="position:absolute;white-space:nowrap;line-height:1;font-family:'Liberation Sans',sans-serif;font-size:13.15px;left:694.06px;top:1384.39px;font-weight:bold;color:#111;-webkit-text-stroke:0.95px currentColor;letter-spacing:0.80px;transform:scaleX(0.5079);transform-origin:0 0;">FEV</div>
<div class="t" id="t73" style="position:absolute;white-space:nowrap;line-height:1;font-family:'Liberation Sans',sans-serif;font-size:13.15px;left:726.40px;top:1384.39px;font-weight:bold;color:#111;-webkit-text-stroke:0.95px currentColor;letter-spacing:0.80px;transform:scaleX(0.6390);transform-origin:0 0;">MAR</div>
<div class="t" id="t74" style="position:absolute;white-space:nowrap;line-height:1;font-family:'Liberation Sans',sans-serif;font-size:13.15px;left:762.95px;top:1384.39px;font-weight:bold;color:#111;-webkit-text-stroke:0.95px currentColor;letter-spacing:0.80px;transform:scaleX(0.5641);transform-origin:0 0;">ABR</div>
<div class="t" id="t75" style="position:absolute;white-space:nowrap;line-height:1;font-family:'Liberation Sans',sans-serif;font-size:13.15px;left:798.71px;top:1384.39px;font-weight:bold;color:#111;-webkit-text-stroke:0.95px currentColor;letter-spacing:0.80px;transform:scaleX(0.5852);transform-origin:0 0;">MAI</div>
<div class="t" id="t76" style="position:absolute;white-space:nowrap;line-height:1;font-family:'Liberation Sans',sans-serif;font-size:13.15px;left:833.24px;top:1384.39px;font-weight:bold;color:#111;-webkit-text-stroke:0.95px currentColor;letter-spacing:0.80px;transform:scaleX(0.5880);transform-origin:0 0;">JUN</div>
<div class="t" id="t77" style="position:absolute;white-space:nowrap;line-height:1;font-family:'Liberation Sans',sans-serif;font-size:13.15px;left:869.48px;top:1384.39px;font-weight:bold;color:#111;-webkit-text-stroke:0.95px currentColor;letter-spacing:0.80px;transform:scaleX(0.5378);transform-origin:0 0;">JUL</div>
<div class="t" id="t78" style="position:absolute;white-space:nowrap;line-height:1;font-family:'Liberation Sans',sans-serif;font-size:13.15px;left:903.45px;top:1384.39px;font-weight:bold;color:#111;-webkit-text-stroke:0.95px currentColor;letter-spacing:0.80px;transform:scaleX(0.5470);transform-origin:0 0;">AGO</div>
<div class="t" id="t79" style="position:absolute;white-space:nowrap;line-height:1;font-family:'Liberation Sans',sans-serif;font-size:13.15px;left:939.99px;top:1384.39px;font-weight:bold;color:#111;-webkit-text-stroke:0.95px currentColor;letter-spacing:0.80px;transform:scaleX(0.5193);transform-origin:0 0;">SET</div>
<div class="t" id="t80" style="position:absolute;white-space:nowrap;line-height:1;font-family:'Liberation Sans',sans-serif;font-size:13.15px;left:973.73px;top:1384.39px;font-weight:bold;color:#111;-webkit-text-stroke:0.95px currentColor;letter-spacing:0.80px;transform:scaleX(0.5501);transform-origin:0 0;">OUT</div>
<div class="t" id="t81" style="position:absolute;white-space:nowrap;line-height:1;font-family:'Liberation Sans',sans-serif;font-size:13.15px;left:1009.01px;top:1384.39px;font-weight:bold;color:#111;-webkit-text-stroke:0.95px currentColor;letter-spacing:0.80px;transform:scaleX(0.5518);transform-origin:0 0;">NOV</div>
<div class="t" id="t82" style="position:absolute;white-space:nowrap;line-height:1;font-family:'Liberation Sans',sans-serif;font-size:13.15px;left:1045.00px;top:1384.39px;font-weight:bold;color:#111;-webkit-text-stroke:0.95px currentColor;letter-spacing:0.80px;transform:scaleX(0.5556);transform-origin:0 0;">DEZ</div>
<div class="t" id="t83" style="position:absolute;white-space:nowrap;line-height:1;font-family:'Liberation Sans',sans-serif;font-size:26.89px;left:120.07px;top:1423.73px;font-weight:bold;color:#e3f7f1;letter-spacing:1.50px;transform:scaleX(0.9271);transform-origin:0 0;">MALARIOMETRO MENSAL</div>
<div class="t" id="t84" style="position:absolute;white-space:nowrap;line-height:1;font-family:'Liberation Sans',sans-serif;font-size:31.10px;left:113.70px;top:1478.16px;font-weight:bold;color:#e3f7f1;-webkit-text-stroke:1.60px currentColor;transform:scaleX(0.7140);transform-origin:0 0;">132</div>
<div class="t" id="t85" style="position:absolute;white-space:nowrap;line-height:1;font-family:'Liberation Sans',sans-serif;font-size:16.72px;left:617.14px;top:1521.30px;font-weight:bold;color:#0d7a76;-webkit-text-stroke:0.70px currentColor;transform:scaleX(0.6156);transform-origin:0 0;">1º QUADRIMESTRE</div>
<div class="t" id="t86" style="position:absolute;white-space:nowrap;line-height:1;font-family:'Liberation Sans',sans-serif;font-size:11.05px;left:941.00px;top:1439.25px;font-weight:bold;color:#3a3a3a;transform:scaleX(1.0213);transform-origin:0 0;">SEMUSA</div>
<div class="t" id="t87" style="position:absolute;white-space:nowrap;line-height:1;font-family:'Liberation Sans',sans-serif;font-size:10.90px;left:885.00px;top:1452.77px;color:#444;transform:scaleX(0.9123);transform-origin:0 0;">Secretaria Municipal de</div>
<div class="t" id="t88" style="position:absolute;white-space:nowrap;line-height:1;font-family:'Liberation Sans',sans-serif;font-size:10.90px;left:961.00px;top:1465.57px;color:#444;transform:scaleX(0.8750);transform-origin:0 0;">Saúde</div>
<div class="t" id="t89" style="position:absolute;white-space:nowrap;line-height:1;font-family:'Liberation Sans',sans-serif;font-size:16.42px;left:76.26px;top:1567.89px;color:#5a9a94;transform:scaleX(1.0306);transform-origin:0 0;"><b>Fonte:</b> Sivep-Malária/SVSA/MS. Dados consultados até I7/0I/2025 às&nbsp; IIh e 37min.&nbsp;&nbsp; *Dados 2025 estão sujeitos a alterações</div>
</body></html>
